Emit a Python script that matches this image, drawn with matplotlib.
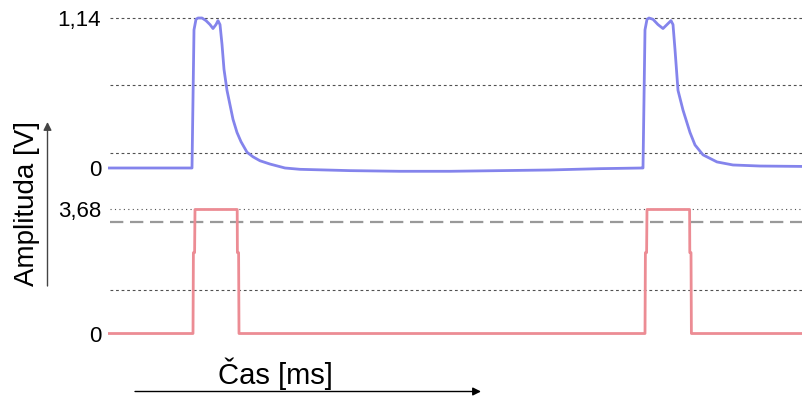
import matplotlib
matplotlib.use("Agg")
import matplotlib.pyplot as plt

plt.rcParams['font.family'] = ['Liberation Sans', 'DejaVu Sans']

# ---- data (time in ms, amplitude in V) ----
in_t = [0.0, 4.1, 4.2, 4.3, 4.4, 4.5, 4.7, 4.9, 5.1, 5.25, 5.4, 5.5, 5.6, 5.7,
        5.8, 5.95, 6.1, 6.25, 6.45, 6.65, 6.95, 7.25, 7.6, 8.1, 8.85, 9.6,
        12.1, 14.6, 17.1, 19.6, 22.1, 24.6, 26.7,
        26.75, 26.85, 26.95, 27.05, 27.25, 27.5, 27.75, 27.95, 28.15, 28.25,
        28.35, 28.5, 28.75, 29.1, 29.35, 29.75, 30.45, 31.25, 32.6, 34.7]
in_v = [0.0, 0.0, 0.0, 1.05, 1.13, 1.14, 1.14, 1.12, 1.09, 1.06, 1.09, 1.12, 1.09, 0.94,
        0.75, 0.59, 0.48, 0.37, 0.27, 0.20, 0.12, 0.085, 0.055, 0.03, 0.0, -0.01,
        -0.02, -0.025, -0.025, -0.02, -0.015, -0.005, 0.0,
        0.0, 1.05, 1.13, 1.14, 1.13, 1.09, 1.06, 1.09, 1.12, 1.09,
        0.90, 0.59, 0.44, 0.27, 0.175, 0.10, 0.046, 0.023, 0.015, 0.012]

out_t = [0.0, 4.25, 4.27, 4.33, 4.35, 6.46, 6.47, 6.53, 6.55,
         26.85, 26.87, 26.93, 26.95, 29.08, 29.09, 29.15, 29.17, 34.7]
out_v = [0.0, 0.0, 2.4, 2.4, 3.68, 3.68, 2.4, 2.4, 0.0,
         0.0, 2.4, 2.4, 3.68, 3.68, 2.4, 2.4, 0.0, 0.0]

in_grid = [0.114, 0.627, 1.14]
in_ticks = [0.0, 1.14]
in_ticklabels = ['0', '1,14']

out_grid_dot = [1.29]
out_grid_fine = [3.68]
out_threshold = 3.31
out_ticks = [0.0, 3.68]
out_ticklabels = ['0', '3,68']

# ---- figure ----
W, H = 802, 398
fig = plt.figure(figsize=(W / 100, H / 100), dpi=100)

def px_axes(x0, x1, y0, y1):
    return fig.add_axes([x0 / W, 1 - y1 / H, (x1 - x0) / W, (y1 - y0) / H])

blue = '#8484ec'
red = '#ec8c94'
gridc = '#505050'

ax1 = px_axes(108, 802, 8, 180)
ax1.set_xlim(0, 34.7)
ax1.set_ylim(-0.0912, 1.216)
for g in in_grid:
    ax1.axhline(g, xmin=0.003, color=gridc, lw=0.8, dashes=(2.5, 2.5), zorder=1)
ax1.plot(in_t, in_v, color=blue, lw=2.0, zorder=3)

ax2 = px_axes(108, 802, 195, 345)
ax2.set_xlim(0, 34.7)
ax2.set_ylim(-0.341, 4.110)
for g in out_grid_dot:
    ax2.axhline(g, xmin=0.003, color=gridc, lw=0.8, dashes=(2.5, 2.5), zorder=1)
for g in out_grid_fine:
    ax2.axhline(g, xmin=0.003, color=gridc, lw=0.8, dashes=(1, 3), zorder=1)
ax2.axhline(out_threshold, xmin=0.003, color='#999999', lw=1.6, dashes=(6, 3), zorder=1)
ax2.plot(out_t, out_v, color=red, lw=2.0, zorder=3)

for ax, ticks, labels in ((ax1, in_ticks, in_ticklabels), (ax2, out_ticks, out_ticklabels)):
    ax.set_yticks(ticks)
    ax.set_yticklabels(labels, fontsize=16)
    ax.tick_params(axis='y', length=0, pad=5)
    ax.set_xticks([])
    for s in ax.spines.values():
        s.set_visible(False)
    ax.patch.set_alpha(0)

# axis arrows and labels
arr = fig.add_axes([0, 0, 1, 1], zorder=-1)
arr.set_xlim(0, W)
arr.set_ylim(H, 0)
arr.axis('off')
arr.annotate('', xy=(47.5, 122), xytext=(47.5, 286),
             arrowprops=dict(arrowstyle='-|>', color='#444444', lw=1.0,
                             mutation_scale=12, shrinkA=0, shrinkB=0))
arr.annotate('', xy=(481, 391.5), xytext=(135, 391.5),
             arrowprops=dict(arrowstyle='-|>', color='black', lw=1.0,
                             mutation_scale=12, shrinkA=0, shrinkB=0))
arr.text(27, 204, 'Amplituda [V]', rotation=90, ha='center', va='center', fontsize=20)
arr.text(275, 374, 'Čas [ms]', ha='center', va='center', fontsize=21)

fig.savefig('out.png', dpi=100)
